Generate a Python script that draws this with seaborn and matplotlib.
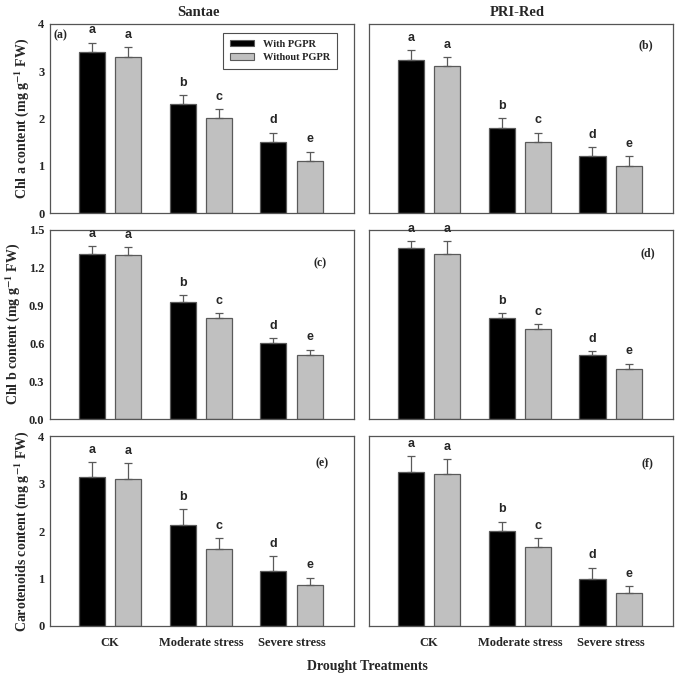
import numpy as np
import pandas as pd
import matplotlib
matplotlib.use("Agg")
import matplotlib.pyplot as plt
import seaborn as sns
from matplotlib.patches import Patch
from matplotlib.container import BarContainer

# data
treatments = ["CK", "Moderate stress", "Severe stress"]
groups = ["With PGPR", "Without PGPR"]
letters = [["a", "b", "d"], ["a", "c", "e"]]

santae_chla = [[3.40, 2.30, 1.50], [3.30, 2.00, 1.10]]
santae_chla_err = [[0.20, 0.20, 0.20], [0.20, 0.20, 0.20]]
prired_chla = [[3.24, 1.80, 1.20], [3.10, 1.50, 1.00]]
prired_chla_err = [[0.20, 0.20, 0.20], [0.20, 0.20, 0.20]]

santae_chlb = [[1.31, 0.93, 0.60], [1.30, 0.80, 0.51]]
santae_chlb_err = [[0.06, 0.05, 0.04], [0.06, 0.04, 0.04]]
prired_chlb = [[1.35, 0.80, 0.51], [1.31, 0.71, 0.40]]
prired_chlb_err = [[0.06, 0.04, 0.03], [0.10, 0.04, 0.04]]

santae_car = [[3.14, 2.14, 1.16], [3.11, 1.63, 0.87]]
santae_car_err = [[0.32, 0.33, 0.32], [0.33, 0.22, 0.15]]
prired_car = [[3.24, 2.00, 1.00], [3.21, 1.67, 0.70]]
prired_car_err = [[0.34, 0.20, 0.23], [0.31, 0.19, 0.14]]

sns.set_style("white")
plt.rcParams["font.family"] = ["Liberation Serif", "DejaVu Serif"]
plt.rcParams["font.weight"] = "bold"
plt.rcParams["mathtext.fontset"] = "stix"
plt.rcParams["axes.linewidth"] = 0.9

colors = ["#000000", "#c0c0c0"]
edge = "#5a5a5a"

fig = plt.figure(figsize=(6.76, 6.75), dpi=100)

lefts = [0.074, 0.546]
bottoms = [0.684, 0.379, 0.0726]
w, h = 0.450, 0.281

panels = [
    (santae_chla, santae_chla_err, "(a)", (0.01, 0.94, "left")),
    (prired_chla, prired_chla_err, "(b)", (0.934, 0.884, "right")),
    (santae_chlb, santae_chlb_err, "(c)", (0.908, 0.82, "right")),
    (prired_chlb, prired_chlb_err, "(d)", (0.94, 0.874, "right")),
    (santae_car, santae_car_err, "(e)", (0.915, 0.858, "right")),
    (prired_car, prired_car_err, "(f)", (0.934, 0.858, "right")),
]
ylabels = ["Chl a content (mg g$^{\\mathbf{-1}}$ FW)",
           "Chl b content (mg g$^{\\mathbf{-1}}$ FW)",
           "Carotenoids content (mg g$^{\\mathbf{-1}}$ FW)"]
ylims = [(0, 4), (0, 1.5), (0, 4)]
yticks = [np.arange(0, 4.1, 1), np.arange(0, 1.51, 0.3), np.arange(0, 4.1, 1)]

for k, (vals, errs, tag, (tx, ty, ha)) in enumerate(panels):
    row, col = divmod(k, 2)
    ax = fig.add_axes([lefts[col], bottoms[row], w, h])
    df = pd.DataFrame({
        "Treatment": treatments * 2,
        "Group": [groups[0]] * 3 + [groups[1]] * 3,
        "Value": vals[0] + vals[1],
    })
    sns.barplot(data=df, x="Treatment", y="Value", hue="Group",
                order=treatments, hue_order=groups, palette=colors,
                errorbar=None, gap=0.28, width=0.8, linewidth=0.9,
                edgecolor=edge, legend=False, ax=ax)
    bars = [c for c in ax.containers if isinstance(c, BarContainer)]
    for g, cont in enumerate(bars):
        for i, bar in enumerate(cont.patches):
            xc = bar.get_x() + bar.get_width() / 2
            top = bar.get_height()
            ax.errorbar(xc, top, yerr=[[0], [errs[g][i]]], fmt="none",
                        ecolor=edge, elinewidth=0.9, capsize=3, capthick=0.9)
            ax.annotate(letters[g][i], (xc, top + errs[g][i]),
                        xytext=(0, 4.5), textcoords="offset points",
                        ha="center", va="bottom", fontsize=9,
                        fontweight="bold", family="Liberation Sans")

    ax.set_xlim(-0.66, 2.69)
    ax.set_ylim(*ylims[row])
    ax.set_yticks(yticks[row])
    ax.set_xlabel("")
    ax.set_ylabel("")
    for s in ax.spines.values():
        s.set_color("#555555")
    ax.tick_params(axis="y", direction="in", length=3, color="#555555",
                   labelsize=9, pad=4)
    ax.tick_params(axis="x", direction="out", length=2.5, color="#555555",
                   labelsize=9, pad=5.5)
    if row == 1:
        ax.set_yticklabels([f"{t:.1f}" for t in yticks[row]])
    else:
        ax.set_yticklabels([f"{t:.0f}" for t in yticks[row]])
    if col == 1:
        ax.set_yticklabels([])
    else:
        ax.set_ylabel(ylabels[row], fontsize=10, fontweight="bold", labelpad=5)
    if row < 2:
        ax.set_xticklabels([])
    ax.text(tx, ty, tag, transform=ax.transAxes, ha=ha, va="center",
            fontsize=8.5, fontweight="bold")

    if k == 0:
        handles = [Patch(facecolor=colors[0], edgecolor=edge, linewidth=0.8),
                   Patch(facecolor=colors[1], edgecolor=edge, linewidth=0.8)]
        leg = ax.legend(handles, groups, loc="upper right",
                        bbox_to_anchor=(0.944, 0.953), borderaxespad=0,
                        frameon=True, fancybox=False, fontsize=7.5,
                        handlelength=2.3, handleheight=0.6,
                        borderpad=0.7, labelspacing=0.4, handletextpad=0.8)
        leg.get_frame().set_edgecolor("#222222")
        leg.get_frame().set_linewidth(0.8)

fig.text(0.293, 0.981, "Santae", ha="center", va="center", fontsize=10.5,
         fontweight="bold")
fig.text(0.765, 0.981, "PRI-Red", ha="center", va="center", fontsize=10.5,
         fontweight="bold")
fig.text(0.543, 0.012, "Drought Treatments", ha="center", va="center",
         fontsize=10, fontweight="bold")

fig.savefig("out.png", dpi=100)
